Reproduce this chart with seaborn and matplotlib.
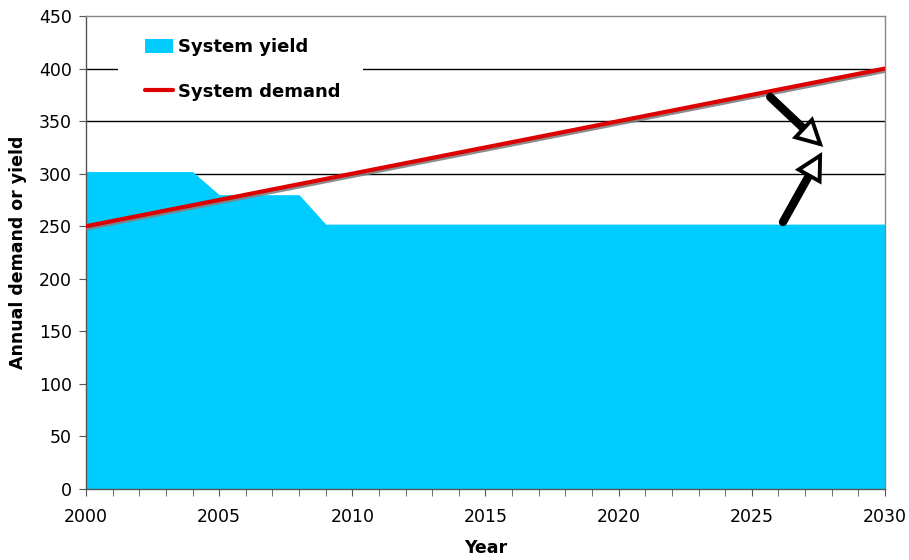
import matplotlib
matplotlib.use("Agg")
import matplotlib.pyplot as plt
import matplotlib.patheffects as pe
from matplotlib.patches import Patch, Rectangle
from matplotlib.lines import Line2D
import seaborn as sns
import pandas as pd

years = list(range(2000, 2031))
yield_vals = [302, 302, 302, 302, 302, 280, 280, 280, 280] + [252] * 22
demand_vals = [250 + 5 * i for i in range(31)]
y_ticks = [0, 50, 100, 150, 200, 250, 300, 350, 400, 450]
x_ticks = [2000, 2005, 2010, 2015, 2020, 2025, 2030]
series_labels = ["System yield", "System demand"]

df = pd.DataFrame({"Year": years, "Yield": yield_vals, "Demand": demand_vals})

sns.set_style("white")
plt.rcParams['font.family'] = ['DejaVu Sans']
plt.rcParams['text.color'] = 'black'
plt.rcParams['axes.labelcolor'] = 'black'
plt.rcParams['xtick.color'] = 'black'
plt.rcParams['ytick.color'] = 'black'

YIELD_C = "#00CCFF"
DEMAND_C = "#DD0000"

fig = plt.figure(figsize=(9.09, 5.6), dpi=100)
ax = fig.add_axes([86/909, 1 - 489/560, (885-86)/909, (489-16)/560])

# grid lines
for yv in [300, 350, 400]:
    ax.axhline(yv, color="black", lw=1, zorder=1)

ax.fill_between(df["Year"], 0, df["Yield"], color=YIELD_C, lw=0, zorder=2)
sns.lineplot(data=df, x="Year", y="Demand", ax=ax, color=DEMAND_C, lw=3, zorder=4,
             path_effects=[pe.SimpleLineShadow(offset=(0.8, -1.5), shadow_color="gray", alpha=0.9),
                           pe.Normal()])

ax.set_xlim(2000, 2030)
ax.set_ylim(0, 450)
ax.set_xticks(x_ticks)
ax.set_xticks(years, minor=True)
ax.set_yticks(y_ticks)
ax.tick_params(axis="x", which="both", direction="out", length=5, color="#555555",
               bottom=True, labelsize=12.5, pad=9)
ax.tick_params(axis="y", direction="out", length=5, color="#555555", left=True,
               labelsize=12.5, pad=5)
for s in ax.spines.values():
    s.set_color("#888888")
    s.set_linewidth(1)
ax.spines["left"].set_color("#555555")
ax.spines["bottom"].set_color("#555555")

ax.set_xlabel("Year", fontsize=12.5, fontweight="bold", labelpad=9)
ax.set_ylabel("Annual demand or yield", fontsize=12.5, fontweight="bold", labelpad=9)

# white gap behind legend (hides the 400 grid line there)
ax.add_patch(Rectangle(((118-86)/799, (489-80)/473), (363-118)/799, 22/473,
                       transform=ax.transAxes, facecolor="white", edgecolor="none", zorder=3))

handles = [Patch(facecolor=YIELD_C, edgecolor="none"),
           Line2D([0], [0], color=DEMAND_C, lw=3)]
leg = ax.legend(handles, series_labels, loc="upper left",
                bbox_to_anchor=((145-86)/799, 1 - (38-16)/473), frameon=False,
                prop={"weight": "bold", "size": 13}, handlelength=1.55, handleheight=0.8,
                handletextpad=0.3, labelspacing=1.5, borderpad=0, borderaxespad=0)
leg.set_zorder(5)

# arrows: thick shaft + open triangular head
arrows = [((2025.69, 372.9), (2027.68, 325.4), (-0.727, 0.686)),
          ((2026.17, 254.0), (2027.64, 320.6), (-0.4875, -0.875))]
for start, tip, u in arrows:
    ax.annotate("", xy=tip, xytext=start,
                arrowprops=dict(arrowstyle="-", color="black", lw=6, shrinkA=0, shrinkB=13,
                                capstyle="round"), zorder=6)
    ax.annotate("", xy=tip, xytext=(u[0] * 17, u[1] * 17), textcoords="offset points",
                arrowprops=dict(arrowstyle="-|>,head_length=0.68,head_width=0.36",
                                mutation_scale=24, lw=2.8, fc="white", ec="black",
                                shrinkA=0, shrinkB=0, joinstyle="miter"), zorder=7)

fig.savefig("out.png", dpi=100)
